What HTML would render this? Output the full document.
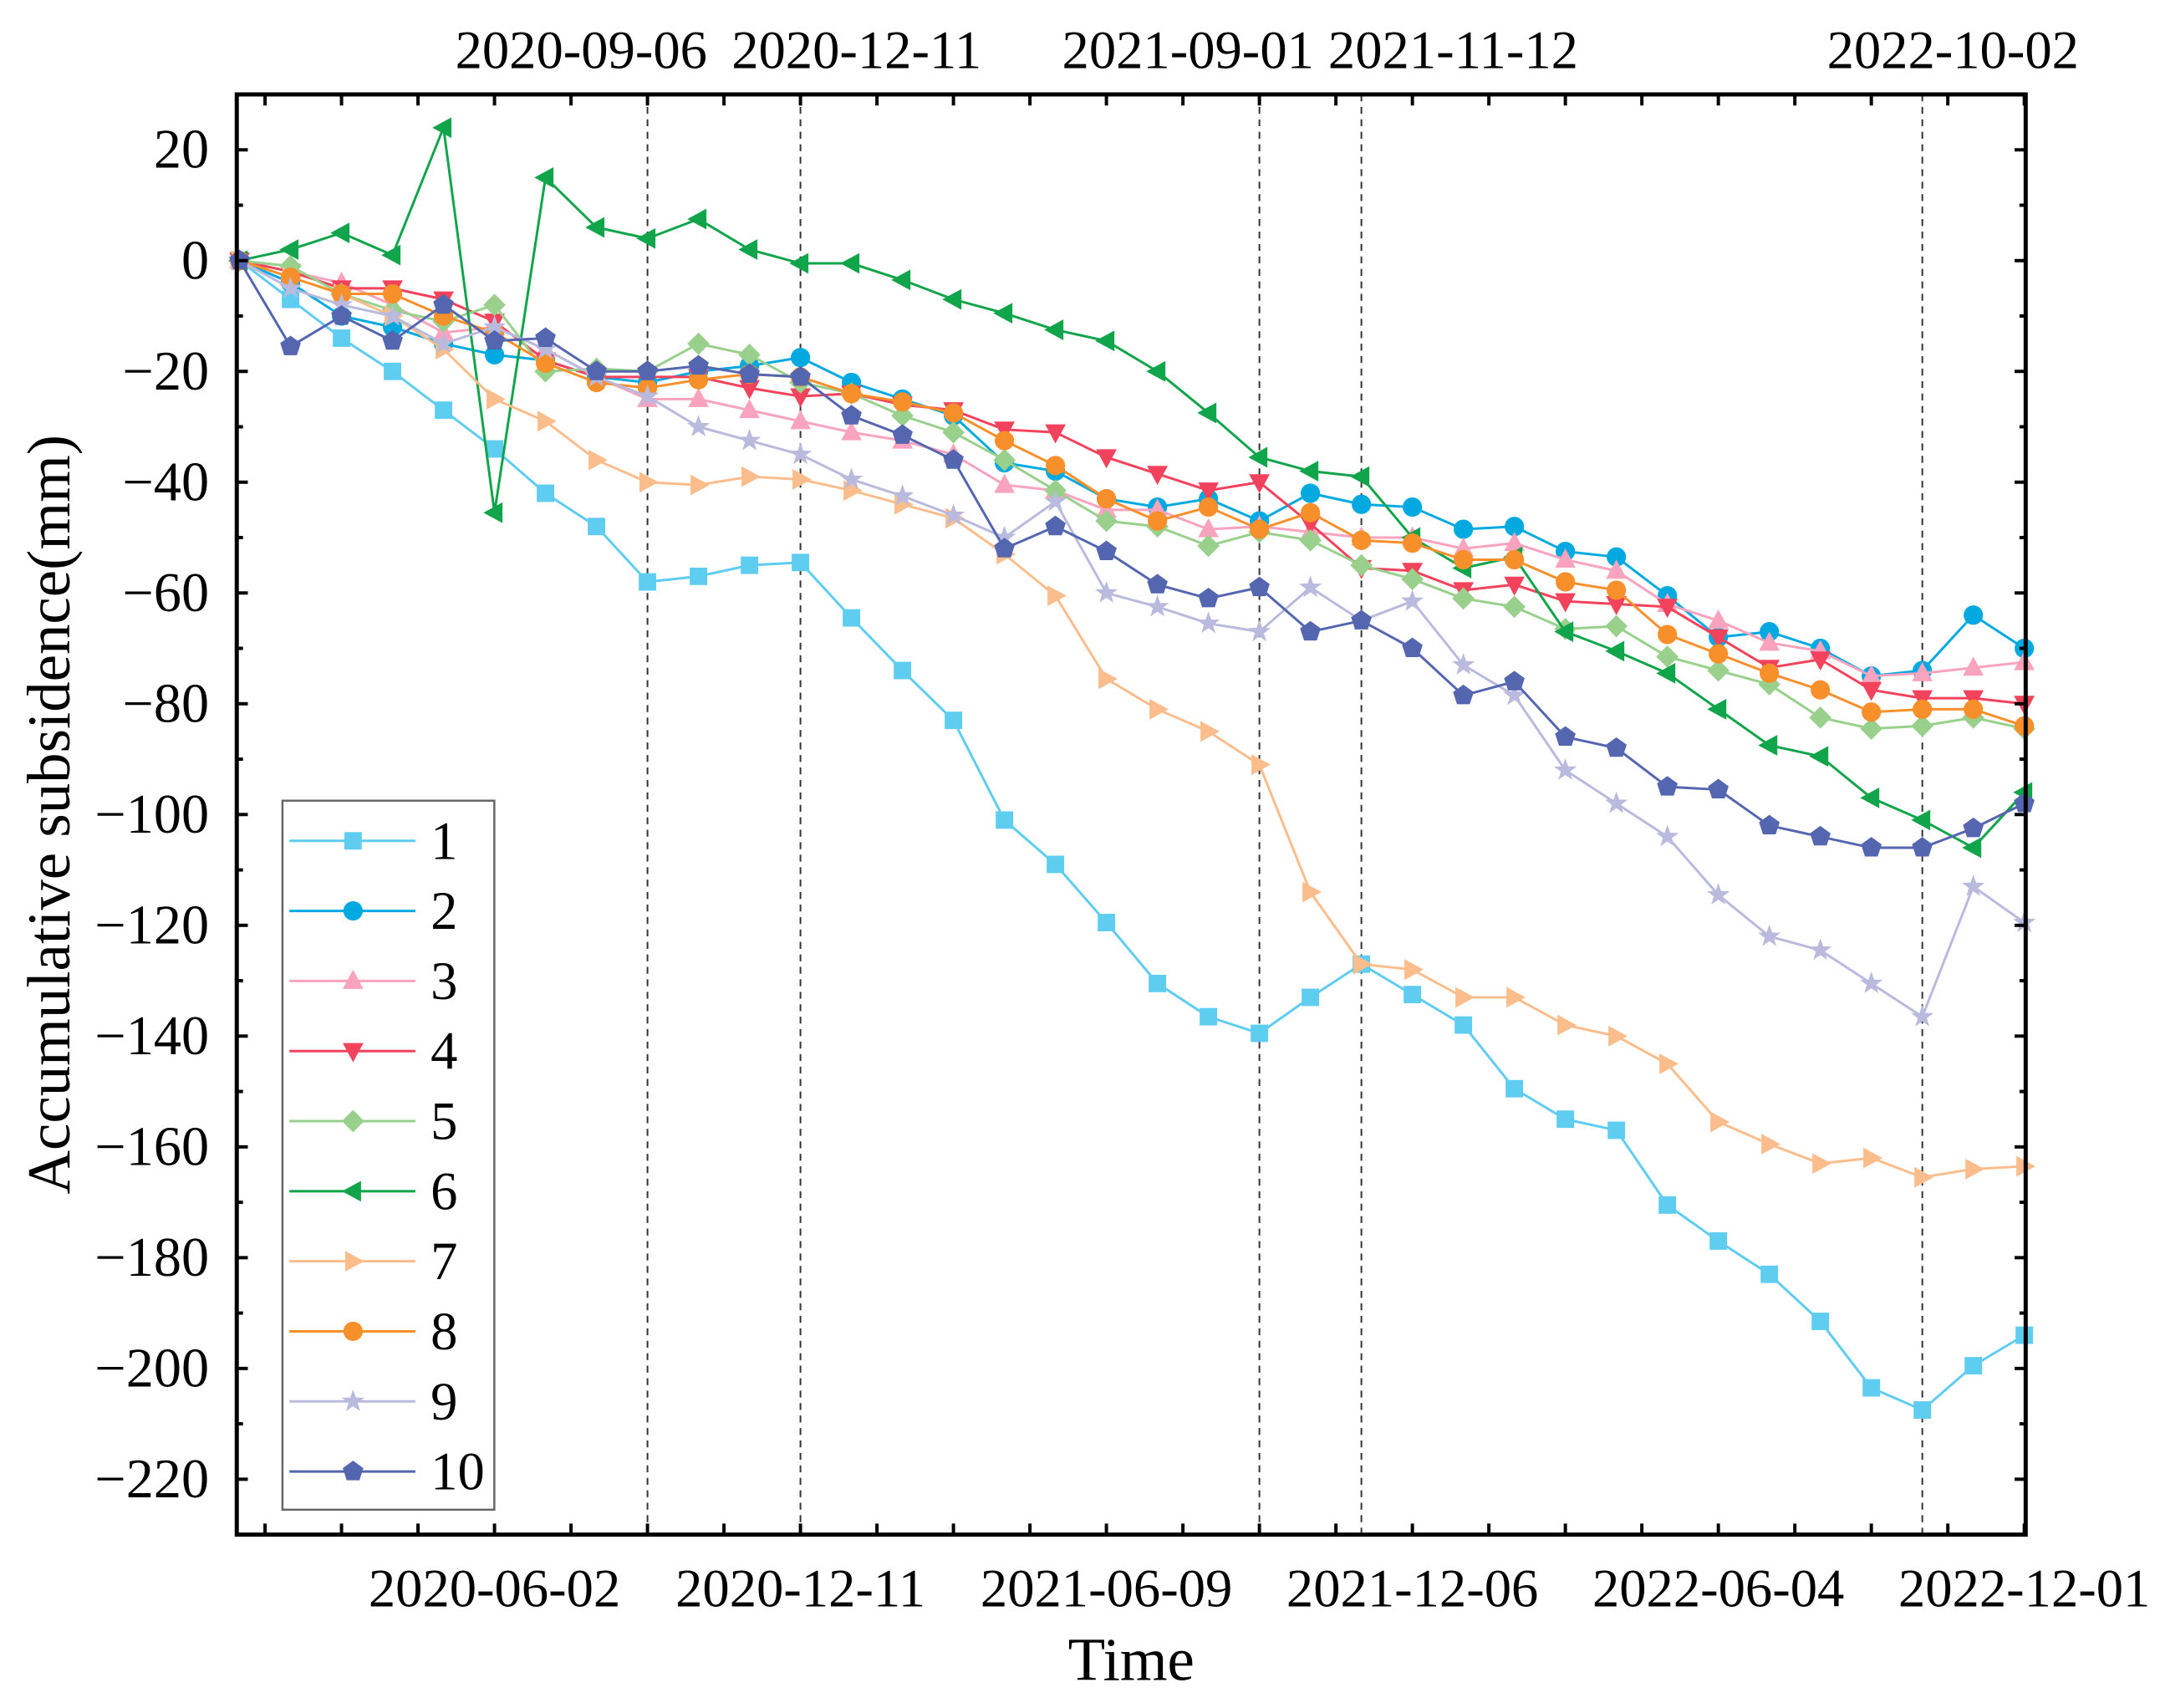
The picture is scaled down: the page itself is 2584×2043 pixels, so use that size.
<!DOCTYPE html>
<html><head><meta charset="utf-8"><style>html,body{margin:0;padding:0;background:#fff}svg{display:block}</style></head>
<body>
<svg id="chart" xmlns="http://www.w3.org/2000/svg" width="2584" height="2043" viewBox="0 0 1560 1233" font-family="'Liberation Serif', serif">
<rect width="1560" height="1233" fill="#fff"/>
<g id="grid"></g><g id="series"></g><g id="axes"></g><g id="legend"></g>
</svg>
<script>
const seriesNames=["1","2","3","4","5","6","7","8","9","10"];
const s1=[0,-7,-14,-20,-27,-34,-42,-48,-58,-57,-55,-54.5,-64.5,-74,-83,-101,-109,-119.5,-130.5,-136.5,-139.5,-133,-127,-132.5,-138,-149.5,-155,-157,-170.5,-177,-183,-191.5,-203.5,-207.5,-199.5,-194];
const s2=[0,-4,-10,-12,-15,-17,-18,-21,-22,-20,-19,-17.5,-22,-25,-28,-36.5,-38,-43,-44.5,-43,-47,-42,-44,-44.5,-48.5,-48,-52.5,-53.5,-60.5,-68,-67,-70,-75,-74,-64,-70];
const s3=[0,-2,-4,-8,-13,-12,-16,-21,-25,-25,-27,-29,-31,-32.5,-35,-40.5,-41.5,-45,-45,-48.5,-48,-49,-50,-50,-52,-51,-54,-56,-62,-65,-69,-70.5,-75,-74.5,-73.5,-72.5];
const s4=[0,-2,-5,-5,-7,-11,-18,-21,-21,-21,-23,-24.5,-24,-26,-27,-30.5,-31,-35.5,-38.5,-41.5,-40,-47.5,-55.5,-56,-59.5,-58.5,-61.5,-62,-62.5,-68,-73.5,-72,-77.5,-79,-79,-80];
const s5=[0,-1,-6,-9,-11,-8,-20,-19.5,-20,-15,-17,-22,-24,-28,-31,-36,-41.5,-47,-48,-51.5,-49,-50.5,-55,-57.5,-61,-62.5,-66.5,-66,-71.5,-74,-76.5,-82.5,-84.5,-84,-82.5,-84.5];
const s6=[0,2,5,1,24,-45.5,15,6,4,7.5,2,-0.5,-0.5,-3.5,-7,-9.5,-12.5,-14.5,-20,-27.5,-35.5,-38,-39,-50,-55.5,-53.5,-67,-70.5,-74.5,-81,-87.5,-89.5,-97,-101,-106,-96];
const s7=[0,-3,-6,-10,-16,-25,-29,-36,-40,-40.5,-39,-39.5,-41.5,-44,-46.5,-53,-60.5,-75.5,-81,-85,-91,-114,-127,-128,-133,-133,-138,-140,-145,-155.5,-159.5,-163,-162,-165.5,-164,-163.5];
const s8=[0,-3,-6,-6,-10,-13,-18.5,-22,-23,-21.5,-20.5,-21,-24,-25.5,-27.5,-32.5,-37,-43,-47,-44.5,-48.5,-45.5,-50.5,-51,-54,-54,-58,-59.5,-67.5,-71,-74.5,-77.5,-81.5,-81,-81,-84];
const s9=[0,-5,-8,-10,-15,-12,-16,-21,-24.5,-30,-32.5,-35,-39.5,-42.5,-46,-50,-43.5,-60,-62.5,-65.5,-67,-59,-65,-61.5,-73,-78.5,-92,-98,-104,-114.5,-122,-124.5,-130.5,-136.5,-113,-119.5];
const s10=[0,-15.5,-10,-14.5,-8,-14.5,-14,-20,-20,-19,-20.5,-21,-28,-31.5,-36,-52,-48,-52.5,-58.5,-61,-59,-67,-65,-70,-78.5,-76,-86,-88,-95,-95.5,-102,-104,-106,-106,-102.5,-98];
const bottomTickIdx=[5,11,17,23,29,35];
const bottomTickLabels=["2020-06-02","2020-12-11","2021-06-09","2021-12-06","2022-06-04","2022-12-01"];
const eventIdx=[8,11,20,22,33];
const eventLabels=["2020-09-06","2020-12-11","2021-09-01","2021-11-12","2022-10-02"];
const eventLabelIdx=[6.7,12.1,18.6,23.8,33.6];
const yTicks=[20,0,-20,-40,-60,-80,-100,-120,-140,-160,-180,-200,-220];

const allSeries=[s1,s2,s3,s4,s5,s6,s7,s8,s9,s10];
const colors=["#5fcdf0","#00a9e0","#f9a3be","#f2425c","#98d08c","#10a54a","#fbbd8c","#f7902b","#b9badd","#5566b0"];
const markers=["square","circle","up","down","diamond","left","right","circle","star","pentagon"];
const NS="http://www.w3.org/2000/svg";
const L=171,R=1463,T=68,B=1108;
const X0=173,DX=(1462-173)/35;
function xs(i){return X0+i*DX;}
function ys(v){return 188-v*4;}
function el(tag,attrs,parent){const e=document.createElementNS(NS,tag);for(const k in attrs)e.setAttribute(k,attrs[k]);parent.appendChild(e);return e;}
function markerShape(type,x,y,c,parent){
  const s=1.15;let e;
  if(type==="square")e=el("rect",{x:x-6.3,y:y-6.3,width:12.6,height:12.6,fill:c},parent);
  else if(type==="circle")e=el("circle",{cx:x,cy:y,r:7,fill:c},parent);
  else{let pts;
    if(type==="up")pts=[[0,-7],[6.5,5],[-6.5,5]];
    else if(type==="down")pts=[[0,7],[6.5,-5],[-6.5,-5]];
    else if(type==="left")pts=[[-7,0],[5,-6.5],[5,6.5]];
    else if(type==="right")pts=[[7,0],[-5,-6.5],[-5,6.5]];
    else if(type==="diamond")pts=[[0,-7],[7,0],[0,7],[-7,0]];
    else if(type==="star"){pts=[];for(let k=0;k<10;k++){const a=-Math.PI/2+k*Math.PI/5,rr=k%2?3:7.5;pts.push([rr*Math.cos(a),rr*Math.sin(a)]);}}
    else {pts=[];for(let k=0;k<5;k++){const a=-Math.PI/2+k*2*Math.PI/5;pts.push([6.8*Math.cos(a),6.8*Math.sin(a)]);}}
    e=el("polygon",{points:pts.map(p=>(x+p[0]*s)+","+(y+p[1]*s)).join(" "),fill:c},parent);}
  return e;
}
const grid=document.getElementById("grid");
eventIdx.forEach((ix,k)=>{
  const ln=el("line",{x1:xs(ix),x2:xs(ix),y1:T,y2:B,stroke:"#333","stroke-width":1.2,"stroke-dasharray":"5,4"},grid);
  
  
  const t=el("text",{x:xs(eventLabelIdx[k]),y:49,"text-anchor":"middle","font-size":39},grid);
  t.textContent=eventLabels[k];
  
  
});
const sg=document.getElementById("series");
allSeries.forEach((d,si)=>{
  const g=el("g",{},sg);
  
  
  const pl=el("polyline",{points:d.map((v,i)=>xs(i)+","+ys(v)).join(" "),fill:"none",stroke:colors[si],"stroke-width":1.8},g);
  
  
  d.forEach((v,i)=>{const m=markerShape(markers[si],xs(i),ys(v),colors[si],g);
    
    });
});
const ax=document.getElementById("axes");
const frame=el("rect",{x:L,y:T,width:R-L,height:B-T,fill:"none",stroke:"#000","stroke-width":3},ax);


for(let v=20;v>=-230;v-=10){const y=ys(v);if(y<T||y>B)continue;const len=(v%20===0)?8:4.5;
  el("line",{x1:L,x2:L+len,y1:y,y2:y,stroke:"#000","stroke-width":2.4},ax);
  el("line",{x1:R,x2:R-len,y1:y,y2:y,stroke:"#000","stroke-width":2.4},ax);}
yTicks.forEach(v=>{const t=el("text",{x:151,y:ys(v)+13,"text-anchor":"end","font-size":40},ax);t.textContent=(v<0?"\u2212"+(-v):v);
  
  });
const majX=xs(5),step=(xs(11)-xs(5))/4;
for(let x=majX-3*step;x<=R+1;x+=step){
  el("line",{x1:x,x2:x,y1:B,y2:B-8,stroke:"#000","stroke-width":2.4},ax);
  el("line",{x1:x,x2:x,y1:T,y2:T+8,stroke:"#000","stroke-width":2.4},ax);}
bottomTickIdx.forEach((ix,k)=>{const t=el("text",{x:xs(ix),y:1160,"text-anchor":"middle","font-size":39},ax);t.textContent=bottomTickLabels[k];
  
  });
const xt=el("text",{x:817,y:1213,"text-anchor":"middle","font-size":44},ax);xt.textContent="Time";


const yt=el("text",{x:0,y:0,"text-anchor":"middle","font-size":44,transform:"translate(50,588) rotate(-90)"},ax);yt.textContent="Accumulative subsidence(mm)";


const lg=document.getElementById("legend");


el("rect",{x:204,y:578,width:153,height:512,fill:"#fff",stroke:"#666","stroke-width":1.5},lg);
seriesNames.forEach((n,i)=>{const y=607+i*50.6;const g=el("g",{},lg);
  
  
  el("line",{x1:209,x2:300,y1:y,y2:y,stroke:colors[i],"stroke-width":1.8},g);
  markerShape(markers[i],255,y,colors[i],g);
  const t=el("text",{x:311,y:y+13,"font-size":39},g);t.textContent=n;});
</script>
</body></html>
